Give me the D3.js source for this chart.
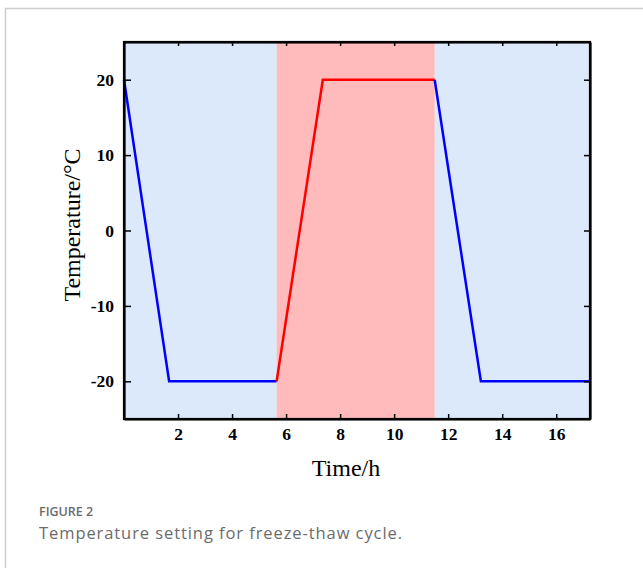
<!DOCTYPE html>
<html>
<head>
<meta charset="utf-8">
<script src="https://cdn.jsdelivr.net/npm/d3@7"></script>
<style>
  body { margin: 0; background: #fff; }
  svg { display: block; }
</style>
</head>
<body>
<script>
// time (h) and temperature (°C)
var coldTime1 = [0, 1.67, 5.65];
var coldTemp1 = [20, -20, -20];
var warmTime = [5.65, 7.36, 11.5];
var warmTemp = [-20, 20, 20];
var coldTime2 = [11.5, 13.21, 17.25];
var coldTemp2 = [20, -20, -20];

// shaded phases: [start, end]
var phaseCold = [[0, 5.65], [11.5, 17.25]];
var phaseWarm = [[5.65, 11.5]];

var xTicks = [2, 4, 6, 8, 10, 12, 14, 16];
var yTicks = [-20, -10, 0, 10, 20];

(function () {
    var width = 643, height = 568;
    var svg = d3.select('body').append('svg')
        .attr('width', width)
        .attr('height', height);

    // figure frame (only left/top edges are inside the window)
    svg.append('rect')
        .attr('x', 5.5).attr('y', 8.5)
        .attr('width', 700).attr('height', 700)
        .attr('fill', 'none')
        .attr('stroke', '#cccccc')
        .attr('stroke-width', 1.5);

    var margin = { top: 42, left: 124, right: 53, bottom: 149 };
    var innerWidth = width - margin.left - margin.right;
    var innerHeight = height - margin.top - margin.bottom;

    var x = d3.scaleLinear().domain([0, 17.25]).range([0, innerWidth]);
    var y = d3.scaleLinear().domain([-25, 25]).range([innerHeight, 0]);

    var g = svg.append('g')
        .attr('transform', 'translate(' + margin.left + ',' + margin.top + ')');

    // background bands
    g.selectAll('rect.cold').data(phaseCold).enter().append('rect')
        .attr('class', 'cold')
        .attr('x', function (d) { return x(d[0]); })
        .attr('width', function (d) { return x(d[1]) - x(d[0]); })
        .attr('y', 0).attr('height', innerHeight)
        .attr('fill', '#dbe9fb');
    g.selectAll('rect.warm').data(phaseWarm).enter().append('rect')
        .attr('class', 'warm')
        .attr('x', function (d) { return x(d[0]); })
        .attr('width', function (d) { return x(d[1]) - x(d[0]); })
        .attr('y', 0).attr('height', innerHeight)
        .attr('fill', '#ffbbbb');

    var line = d3.line()
        .x(function (d) { return x(d[0]); })
        .y(function (d) { return y(d[1]); });

    var segs = [
        { t: coldTime1, v: coldTemp1, c: '#0000ff' },
        { t: warmTime, v: warmTemp, c: '#ff0000' },
        { t: coldTime2, v: coldTemp2, c: '#0000ff' }
    ];
    segs.forEach(function (s) {
        g.append('path')
            .datum(d3.zip(s.t, s.v))
            .attr('d', line)
            .attr('fill', 'none')
            .attr('stroke', s.c)
            .attr('stroke-width', 2.5)
            .attr('stroke-linejoin', 'miter');
    });

    var tickFont = 'Liberation Serif, Times New Roman, serif';
    var plain = function (d) { return String(d); }; // hyphen minus like the original

    // axes, ticks point inward
    var axBottom = g.append('g')
        .attr('transform', 'translate(0,' + innerHeight + ')')
        .call(d3.axisBottom(x).tickValues(xTicks).tickSizeInner(-5).tickSizeOuter(0).tickPadding(9).tickFormat(plain));
    var axTop = g.append('g')
        .call(d3.axisTop(x).tickValues(xTicks).tickSizeInner(-4).tickSizeOuter(0).tickFormat(''));
    var axLeft = g.append('g')
        .call(d3.axisLeft(y).tickValues(yTicks).tickSizeInner(-7).tickSizeOuter(0).tickPadding(10).tickFormat(plain));
    var axRight = g.append('g')
        .attr('transform', 'translate(' + innerWidth + ',0)')
        .call(d3.axisRight(y).tickValues(yTicks).tickSizeInner(-6).tickSizeOuter(0).tickFormat(''));

    [axBottom, axTop, axLeft, axRight].forEach(function (a) {
        a.select('.domain').attr('stroke', '#000').attr('stroke-width', 2.2);
        a.selectAll('.tick line').attr('stroke', '#000').attr('stroke-width', 1.5);
        a.selectAll('.tick text')
            .attr('fill', '#000')
            .style('font-family', tickFont)
            .style('font-weight', 'bold')
            .style('font-size', '17.5px');
    });

    // frame corners
    g.append('rect')
        .attr('width', innerWidth).attr('height', innerHeight)
        .attr('fill', 'none').attr('stroke', '#000').attr('stroke-width', 2.2);

    // axis titles
    svg.append('text')
        .attr('x', 346)
        .attr('y', 476)
        .attr('text-anchor', 'middle')
        .style('font-family', tickFont)
        .style('font-size', '24px')
        .text('Time/h');

    svg.append('text')
        .attr('transform', 'translate(80,225) rotate(-90)')
        .attr('text-anchor', 'middle')
        .style('font-family', tickFont)
        .style('font-size', '24px')
        .text('Temperature/°C');

    // caption
    svg.append('text')
        .attr('x', 39).attr('y', 516)
        .attr('fill', '#6b6b6b')
        .style('font-family', 'Open Sans, Noto Sans, sans-serif')
        .style('font-size', '12.5px')
        .style('font-weight', '600')
        .text('FIGURE 2');
    svg.append('text')
        .attr('x', 39).attr('y', 539)
        .attr('fill', '#6b6b6b')
        .attr('textLength', 363)
        .attr('lengthAdjust', 'spacing')
        .style('font-family', 'Open Sans, Noto Sans, sans-serif')
        .style('font-size', '16.5px')
        .text('Temperature setting for freeze-thaw cycle.');
})();
</script>
</body>
</html>
